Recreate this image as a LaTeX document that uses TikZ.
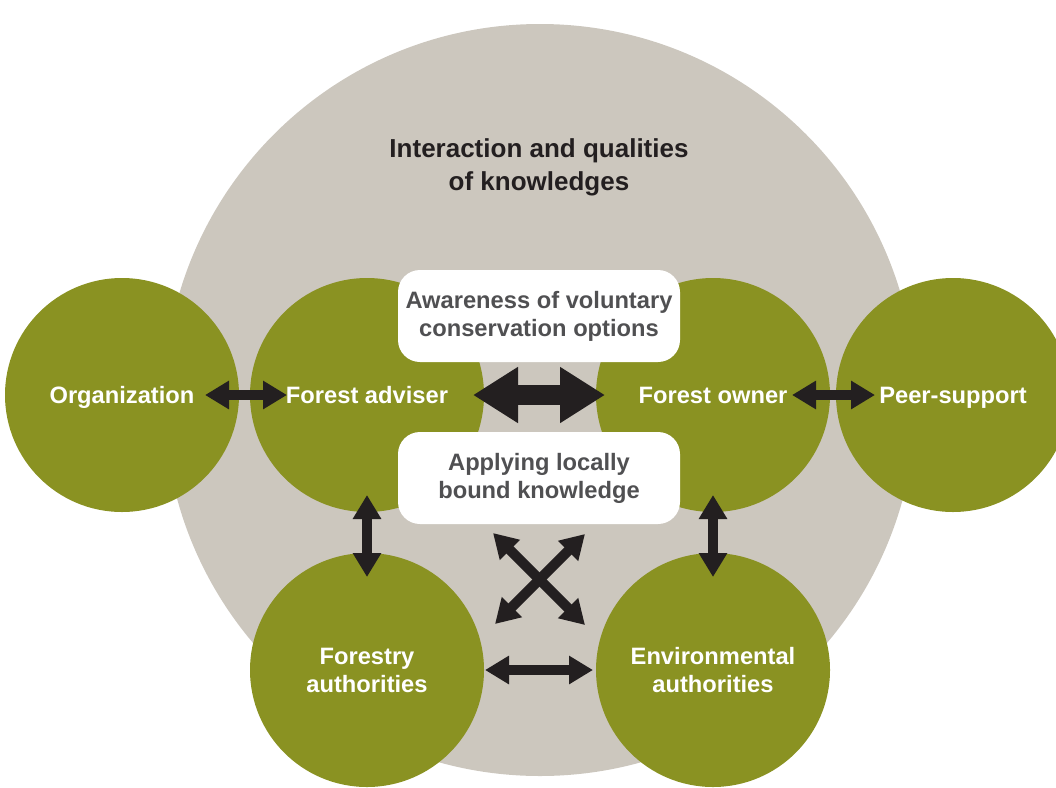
\documentclass[tikz,border=0pt]{standalone}
\usepackage{fontspec}
\setmainfont{Liberation Sans}
\usetikzlibrary{arrows.meta}
\definecolor{leafgreen}{RGB}{138,146,34}
\definecolor{stonegrey}{RGB}{204,199,190}
\definecolor{arrowdark}{RGB}{35,31,32}
\definecolor{boxtext}{RGB}{80,80,82}
\definecolor{titletext}{RGB}{35,31,32}
\begin{document}
\begin{tikzpicture}
  [x=1pt,y=-1pt,
   every node/.style={font=\bfseries\fontsize{23.7}{28}\selectfont,align=center},
   actor/.style={circle,fill=leafgreen,text=white,minimum size=234pt,inner sep=0pt},
   theme/.style={rectangle,rounded corners=22pt,fill=white,text=boxtext,minimum width=282pt,minimum height=92pt},
   link/.style={draw=arrowdark,line width=10pt,{Triangle[length=24pt,width=27pt]}-{Triangle[length=24pt,width=27pt]}},
   biglink/.style={draw=arrowdark,line width=20pt,{Triangle[length=45pt,width=53pt]}-{Triangle[length=45pt,width=53pt]}}]
  \useasboundingbox (0,0) rectangle (1056,787);

  \node[circle,fill=stonegrey,minimum size=752pt] (bg) at (540,400) {};
  \node[text=titletext,font=\bfseries\fontsize{26}{33}\selectfont] (title) at (539,167) {Interaction and qualities\\of knowledges};

  \node[actor,text depth=0pt] (org) at (122,395) {Organization};
  \node[actor,text depth=0pt] (adv) at (367,395) {Forest adviser};
  \node[actor,text depth=0pt] (own) at (713,395) {Forest owner};
  \node[actor,text depth=0pt] (peer) at (953,395) {Peer-support};
  \node[actor] (fa) at (367,670) {Forestry\\authorities};
  \node[actor] (ea) at (713,670) {Environmental\\authorities};

  \node[theme] (aware) at (539,316) {Awareness of voluntary\\conservation options};
  \node[theme] (apply) at (539,478) {Applying locally\\bound knowledge};

  \coordinate (x1) at (493,533);
  \coordinate (x2) at (585,625);
  \coordinate (x3) at (585,534);
  \coordinate (x4) at (495,624);

  \draw[biglink,shorten <=106pt,shorten >=108pt] (adv.center) -- (own.center);
  \foreach \from/\to/\sa/\sb in {org/adv/83/80,own/peer/79/78,adv/fa/100/93,own/ea/100/93,fa/ea/118/120}
    \draw[link,shorten <=\sa pt,shorten >=\sb pt] (\from.center) -- (\to.center);
  \foreach \from/\to in {x1/x2,x3/x4}
    \draw[link] (\from) -- (\to);

\end{tikzpicture}
\end{document}
